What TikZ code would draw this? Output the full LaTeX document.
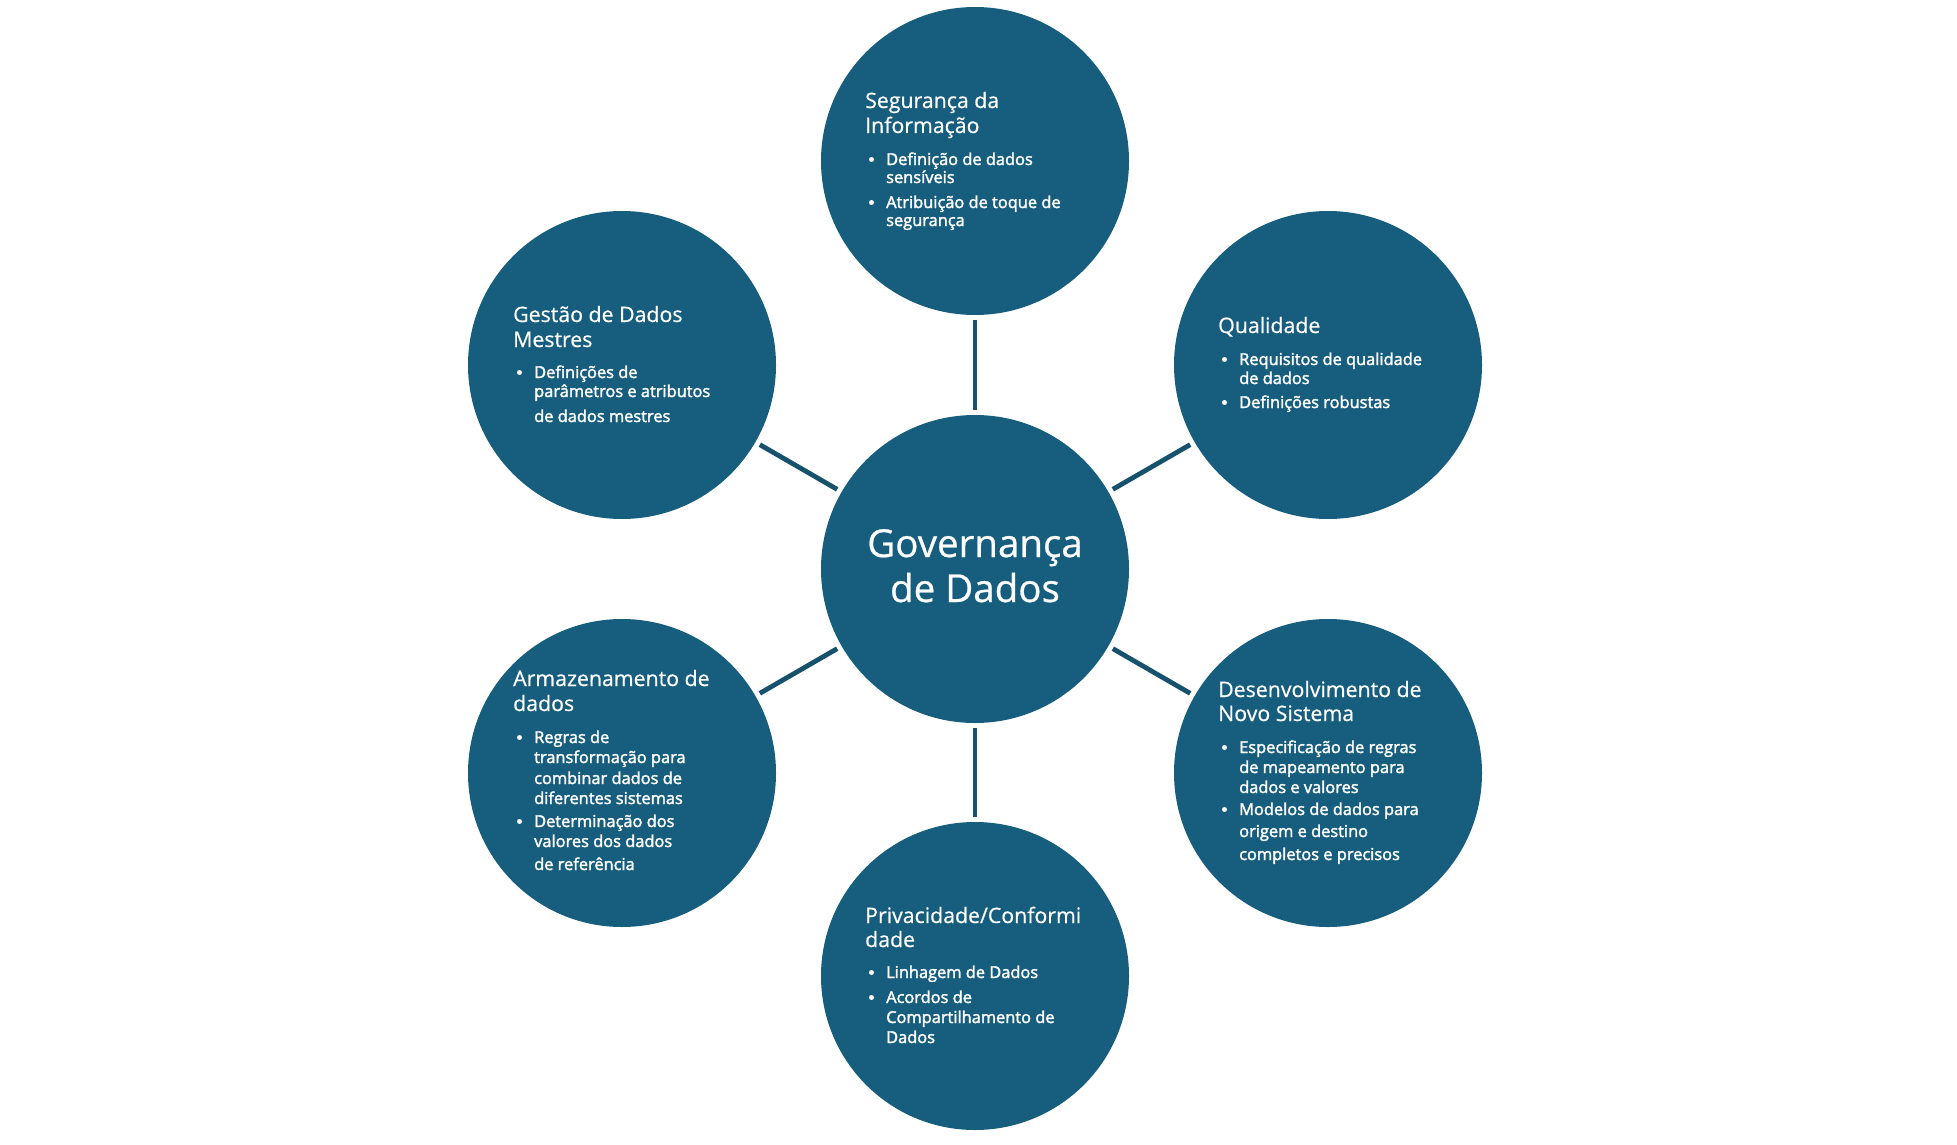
\documentclass[tikz,border=0pt]{standalone}
\usepackage{fontspec}
\setmainfont{Open Sans}[FakeBold=0.6]
\newfontfamily\itemfam{Open Sans}[FakeBold=2]
\definecolor{discfill}{RGB}{23,94,126}
\definecolor{spokecol}{RGB}{22,82,110}

% one heading line, one bulleted line, one continuation line
\newcommand\headline[4]{\node[ttl] (#1) at (#2,#3) {#4};}
\newcommand\bulletline[4]{%
  \node[dot] (#1d) at (#2+6.5,#3-5.5) {};
  \node[itm] (#1) at (#2+21,#3) {#4};}
\newcommand\contline[4]{\node[itm] (#1) at (#2+21,#3) {#4};}

\begin{document}
\begin{tikzpicture}[x=1pt,y=-1pt,
  disc/.style={circle,fill=discfill,minimum size=308pt,inner sep=0pt},
  spoke/.style={draw=spokecol,line width=4.8pt,shorten <=5pt,shorten >=5pt},
  ttl/.style={anchor=base west,inner sep=0pt,text=white,font=\fontsize{21.3}{24}\selectfont},
  itm/.style={anchor=base west,inner sep=0pt,text=white,font=\itemfam\fontsize{16.4}{18}\selectfont},
  dot/.style={circle,fill=white,minimum size=5pt,inner sep=0pt},
  hubtxt/.style={anchor=base,inner sep=0pt,text=white,font=\fontsize{38.5}{42}\selectfont}]

\useasboundingbox (0,0) rectangle (1957,1145);

% discs
\node[disc] (hub) at (975,569) {};
\node[disc] (sec) at (975,161) {};
\node[disc] (mdm) at (622,365) {};
\node[disc] (qual) at (1328,365) {};
\node[disc] (stor) at (622,773) {};
\node[disc] (dev) at (1328,773) {};
\node[disc] (priv) at (975,976) {};

% spokes
\foreach \s in {sec,mdm,qual,stor,dev,priv}
  \draw[spoke] (hub) -- (\s);

% centre
\node[hubtxt] (hub1) at (975,557) {Governança};
\node[hubtxt] (hub2) at (975,602) {de Dados};

% Segurança da Informação
\headline{sec1}{865}{108}{Segurança da}
\headline{sec2}{865}{133}{Informação}
\bulletline{sec3}{865}{165}{Definição de dados}
\contline{sec4}{865}{183}{sensíveis}
\bulletline{sec5}{865}{208}{Atribuição de toque de}
\contline{sec6}{865}{226}{segurança}

% Gestão de Dados Mestres
\headline{mdm1}{513}{322}{Gestão de Dados}
\headline{mdm2}{513}{347}{Mestres}
\bulletline{mdm3}{513}{378}{Definições de}
\contline{mdm4}{513}{397}{parâmetros e atributos}
\contline{mdm5}{513}{422}{de dados mestres}

% Qualidade
\headline{qual1}{1218}{333}{Qualidade}
\bulletline{qual2}{1218}{365}{Requisitos de qualidade}
\contline{qual3}{1218}{384}{de dados}
\bulletline{qual4}{1218}{408}{Definições robustas}

% Armazenamento de dados
\headline{stor1}{513}{686}{Armazenamento de}
\headline{stor2}{513}{711}{dados}
\bulletline{stor3}{513}{743}{Regras de}
\contline{stor4}{513}{763}{transformação para}
\contline{stor5}{513}{784}{combinar dados de}
\contline{stor6}{513}{804}{diferentes sistemas}
\bulletline{stor7}{513}{827}{Determinação dos}
\contline{stor8}{513}{847}{valores dos dados}
\contline{stor9}{513}{870}{de referência}

% Desenvolvimento de Novo Sistema
\headline{dev1}{1218}{697}{Desenvolvimento de}
\headline{dev2}{1218}{721}{Novo Sistema}
\bulletline{dev3}{1218}{753}{Especificação de regras}
\contline{dev4}{1218}{773}{de mapeamento para}
\contline{dev5}{1218}{793}{dados e valores}
\bulletline{dev6}{1218}{815}{Modelos de dados para}
\contline{dev7}{1218}{837}{origem e destino}
\contline{dev8}{1218}{860}{completos e precisos}

% Privacidade/Conformidade
\headline{priv1}{865}{923}{Privacidade/Conformi}
\headline{priv2}{865}{947}{dade}
\bulletline{priv3}{865}{978}{Linhagem de Dados}
\bulletline{priv4}{865}{1003}{Acordos de}
\contline{priv5}{865}{1023}{Compartilhamento de}
\contline{priv6}{865}{1043}{Dados}
\end{tikzpicture}
\end{document}
